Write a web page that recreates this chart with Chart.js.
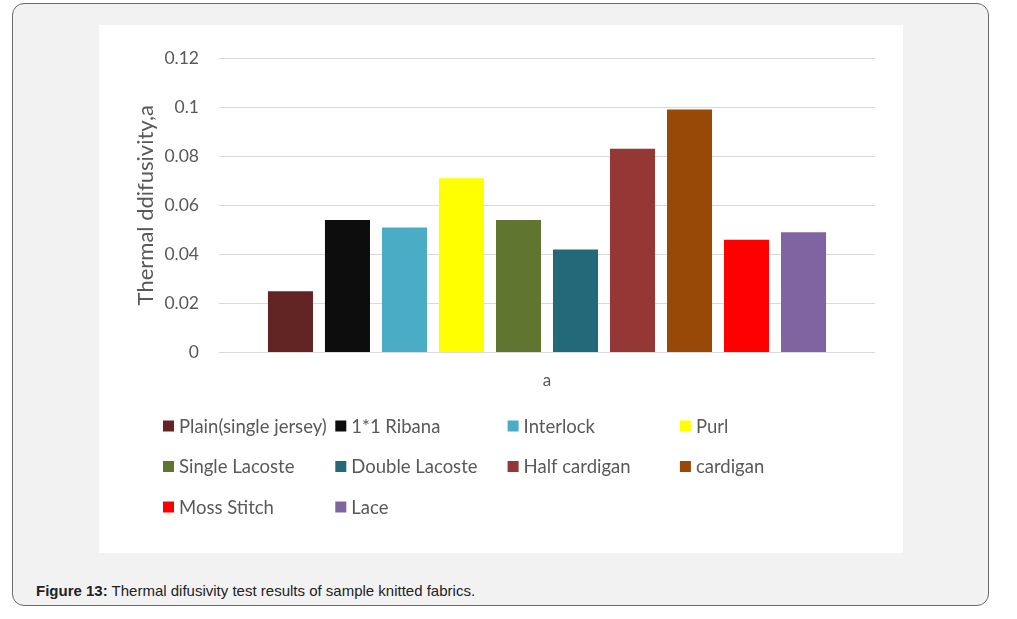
<!DOCTYPE html>
<html>
<head>
<meta charset="utf-8">
<script src="https://cdn.jsdelivr.net/npm/chart.js@4.4.1/dist/chart.umd.min.js"></script>
<style>
  html, body { margin: 0; padding: 0; background: #fff; width: 1017px; height: 619px; overflow: hidden; }
  #frame {
    position: absolute; left: 12px; top: 3px; width: 975px; height: 601px;
    border: 1px solid #6b6b6b; border-radius: 12px; background: #f2f2f2;
  }
  #chart-box {
    position: absolute; left: 99px; top: 25px; width: 804px; height: 528px; background: #fff;
  }
  #caption {
    position: absolute; left: 36px; top: 582px;
    font-family: "Liberation Sans", Arial, sans-serif; font-size: 15px; color: #222;
  }
</style>
</head>
<body>
<div id="frame"></div>
<div id="chart-box"><canvas id="fig13"></canvas></div>
<div id="caption"><b>Figure 13:</b> Thermal difusivity test results of sample knitted fabrics.</div>
<script>
// data
let categories = ['a'];
let fabrics = ['Plain(single jersey)', '1*1 Ribana', 'Interlock', 'Purl', 'Single Lacoste',
    'Double Lacoste', 'Half cardigan', 'cardigan', 'Moss Stitch', 'Lace'];
let diffusivity = [0.025, 0.054, 0.051, 0.071, 0.054, 0.042, 0.083, 0.099, 0.046, 0.049];
let colours = ['#632523', '#0d0d0d', '#4bacc6', '#ffff00', '#5f7530',
    '#24697a', '#953735', '#984807', '#ff0000', '#8064a2'];
let yTicks = [0, 0.02, 0.04, 0.06, 0.08, 0.1, 0.12];

const textGrey = '#595959';
const fontFam = 'Lato, "Open Sans", sans-serif';

// legend in a fixed 4 column grid like the excel one
const gridLegend = {
    id: 'gridLegend',
    afterDraw(chart) {
        let ctx = chart.ctx;
        ctx.save();
        ctx.font = '18.5px ' + fontFam;
        ctx.textBaseline = 'middle';
        ctx.textAlign = 'left';
        chart.data.datasets.forEach((ds, i) => {
            let col = i % 4, row = Math.floor(i / 4);
            let x = 64 + col * 172.3;
            let y = 401 + row * 40.5;
            ctx.fillStyle = ds.backgroundColor;
            ctx.fillRect(x, y - 5.5, 11, 11);
            ctx.fillStyle = textGrey;
            ctx.fillText(ds.label, x + 16, y + 1);
        });
        ctx.restore();
    }
};

let datasets = fabrics.map((name, i) => ({
    label: name,
    data: [diffusivity[i]],
    backgroundColor: colours[i],
    borderWidth: 0,
    barPercentage: 0.79,
    categoryPercentage: 0.869
}));

var chart = new Chart(document.getElementById('fig13'), {
    type: 'bar',
    data: { labels: categories, datasets: datasets },
    plugins: [gridLegend],
    options: {
        responsive: true,
        maintainAspectRatio: false,
        animation: false,
        layout: { padding: { top: 33, right: 28, bottom: 162, left: 0 } },
        scales: {
            x: {
                grid: { display: false, drawTicks: false },
                border: { display: false },
                ticks: { display: false },
                title: {
                    display: true, text: 'a', color: textGrey,
                    font: { family: fontFam, size: 17 },
                    padding: { top: 18, bottom: 0 }
                }
            },
            y: {
                min: 0, max: 0.12,
                afterFit: (s) => { s.width = 120; },
                afterBuildTicks: (s) => { s.ticks = yTicks.map(v => ({ value: v })); },
                grid: { color: '#d9d9d9', drawTicks: false },
                border: { display: false },
                ticks: {
                    padding: 20, color: textGrey,
                    font: { family: fontFam, size: 17.5 },
                    callback: (v) => String(+v.toFixed(2))
                },
                title: {
                    display: true, text: 'Thermal ddifusivity,a', color: textGrey,
                    font: { family: fontFam, size: 22 },
                    padding: { top: 34, bottom: 0 }
                }
            }
        },
        plugins: {
            legend: { display: false },
            tooltip: { enabled: false }
        }
    }
});
</script>
</body>
</html>
